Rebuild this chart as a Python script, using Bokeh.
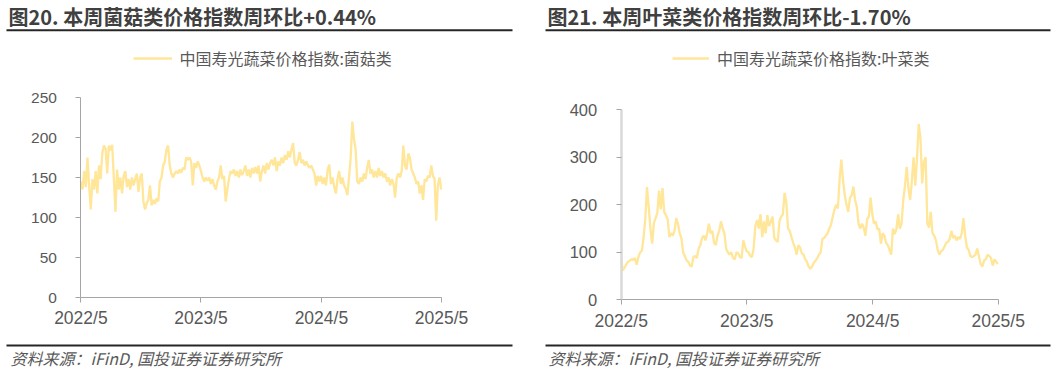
import pandas as pd
from bokeh.plotting import figure
from bokeh.models import (Range1d, FixedTicker, Label, BoxAnnotation, Legend, LegendItem,
                          ColumnDataSource)
from bokeh.layouts import row
from bokeh.embed import file_html
from bokeh.resources import INLINE

# ---------------- data ----------------
START_DATE = "2022-05-01"
STEP = "5D"
tick_dates = ["2022-05-01", "2023-05-01", "2024-05-01", "2025-05-01"]
tick_labels = ["2022/5", "2023/5", "2024/5", "2025/5"]

title_left = "图20. 本周菌菇类价格指数周环比+0.44%"
title_right = "图21. 本周叶菜类价格指数周环比-1.70%"
series_left = "中国寿光蔬菜价格指数:菌菇类"
series_right = "中国寿光蔬菜价格指数:叶菜类"
source_text = "资料来源：iFinD, 国投证券证券研究所"

mushroom = [
    145, 135, 158, 138, 175, 140, 110, 148, 135, 158,
    130, 165, 148, 180, 190, 186, 155, 190, 184, 191,
    150, 107, 160, 135, 150, 130, 152, 158, 138, 148,
    135, 150, 140, 148, 155, 132, 150, 155, 120, 110,
    118, 122, 140, 115, 122, 117, 124, 120, 145, 150,
    165, 170, 185, 190, 165, 155, 150, 155, 158, 155,
    160, 156, 162, 160, 175, 172, 175, 170, 140, 168,
    162, 170, 165,
    158, 150, 145, 150, 146, 150, 142, 148, 140, 135,
    145, 150, 165, 148, 152, 120, 135, 148, 158, 155,
    160, 152, 158, 150, 160, 153, 158, 165, 152, 160,
    150, 162, 155, 163, 155, 165, 145, 158, 165, 155,
    168, 160, 168, 172, 165, 175, 158, 170, 165, 175,
    168, 178, 172, 183, 175, 185, 193, 168, 165, 172,
    182, 168, 172, 165, 170, 165, 162, 165, 160, 155,
    140, 152, 145,
    152, 142, 150, 140, 160, 166, 142, 150, 138, 130,
    148, 158, 142, 150, 140, 136, 128, 150, 175, 220,
    198, 185, 145, 142, 150, 145, 155, 148, 162, 172,
    155, 160, 150, 158, 150, 162, 152, 158, 150, 155,
    145, 150, 140, 148, 142, 125, 150, 155, 150, 158,
    190, 165, 160, 180, 175, 160, 155, 150, 142, 145,
    130, 140, 122, 148, 145, 152, 150, 165, 152, 148,
    96, 140, 150, 135,
]

leafy = [
    83, 62, 68, 75, 80, 82, 86, 84, 88, 74,
    90, 100, 103, 130, 170, 237, 195, 150, 118, 162,
    172, 183, 230, 190, 235, 185, 178, 170, 132, 140,
    135, 145, 172, 160, 140, 130, 100, 92, 83, 80,
    72, 70, 90, 92, 88, 108, 115, 130, 135, 125,
    140, 160, 140, 145, 120, 115, 135, 145, 165, 150,
    140, 108, 100, 95, 100, 88, 85, 100, 98, 90,
    88, 125, 112, 102, 100, 92, 90, 108, 155, 168,
    150, 180, 132, 165, 140, 178, 155, 165, 175, 130,
    125, 122, 165, 175, 180, 225, 205, 150, 145, 132,
    120, 110, 95, 115, 110, 98, 95, 85, 80, 70,
    65, 70, 78, 82, 88, 95, 100, 128, 130, 135,
    140, 150, 158, 175, 190, 200, 192, 255, 295, 250,
    220, 200, 185, 215, 220, 238, 210, 195, 160, 150,
    160, 152,
    135, 170, 175, 215, 180, 160, 165, 148, 150, 118,
    140, 135, 120, 115, 105, 95, 150, 138, 148, 180,
    150, 160, 210, 240, 280, 235, 210, 250, 300, 240,
    300, 370, 340, 245, 290, 300, 160, 152, 185, 140,
    135, 125, 105, 95, 102, 105, 112, 120, 122, 128,
    145, 130, 135, 125, 132, 128, 140, 172, 135, 110,
    105, 92, 90, 92, 95, 108, 92, 75, 70, 83,
    85, 95, 92, 88, 72, 85, 80, 75,
]

LINE_COLOR = "#FFE699"
TEXT_DARK = "#404040"
TEXT_GRAY = "#595959"
RULE_COLOR = "#262626"
CJK = "Noto Sans CJK SC"
LATIN = "Liberation Sans"
H = 371

tick_ms = [pd.Timestamp(d).value / 1e6 for d in tick_dates]


def panel(values, y_top, y_step, title, series_name, W, frame_px, title_x, rule_x,
          src_x, legend_x, legend_glyph_w, legend_standoff, y_label_size,
          y_axis_color, y_axis_width, x_standoff, x_axis_lead):
    # frame_px: canvas positions of the plot area (left, right, top, bottom)
    fl, fr, ft, fb = frame_px
    t0, t1 = tick_ms[0], tick_ms[-1]
    ms_px = (t1 - t0) / (fr - fl)
    v_px = y_top / (fb - ft)
    x_range = Range1d(t0 - fl * ms_px, t0 + (W - fl) * ms_px)
    y_range = Range1d(-(H - fb) * v_px, fb * v_px)

    dates = pd.date_range(START_DATE, periods=len(values), freq=STEP)
    src = ColumnDataSource(dict(date=dates, val=values))
    p = figure(width=W, height=H, x_axis_type="datetime", output_backend="svg", title=None,
               toolbar_location=None, min_border_left=0, min_border_right=0,
               min_border_top=0, min_border_bottom=0, x_range=x_range, y_range=y_range)
    p.outline_line_color = None
    p.background_fill_color = "white"
    p.border_fill_color = "white"
    p.xgrid.visible = False
    p.ygrid.visible = False

    r = p.line("date", "val", source=src, color=LINE_COLOR, line_width=2.3)

    # axes drawn at fixed data locations inside the (full-canvas) frame
    xa, ya = p.xaxis[0], p.yaxis[0]
    xa.fixed_location = 0
    xa.bounds = (t0 - x_axis_lead * ms_px, t1)
    ya.fixed_location = t0
    ya.bounds = (0, y_top)
    xa.ticker = FixedTicker(ticks=tick_ms)
    xa.major_label_overrides = {m: lab for m, lab in zip(tick_ms, tick_labels)}
    ya.ticker = FixedTicker(ticks=list(range(0, y_top + 1, y_step)))
    for ax in (xa, ya):
        ax.minor_tick_line_color = None
        ax.major_tick_in = 0
        ax.major_tick_out = 5
        ax.major_tick_line_color = "#A6A6A6"
        ax.major_label_text_color = TEXT_GRAY
        ax.major_label_text_font = LATIN
    xa.axis_line_color = "#A6A6A6"
    xa.major_label_text_font_size = "17.5px"
    xa.major_label_standoff = x_standoff
    ya.axis_line_color = y_axis_color
    ya.axis_line_width = y_axis_width
    ya.major_label_text_font_size = y_label_size
    ya.major_label_standoff = 19

    # legend (location measured from frame bottom-left)
    legend = Legend(items=[LegendItem(label=series_name, renderers=[r])],
                    location=(legend_x, H - 69.7), orientation="horizontal",
                    padding=0, margin=0, spacing=0,
                    glyph_width=legend_glyph_w, glyph_height=20, label_height=20,
                    label_standoff=legend_standoff,
                    label_text_font=CJK, label_text_font_size="16px",
                    label_text_color=TEXT_GRAY,
                    border_line_color=None, background_fill_alpha=0)
    p.add_layout(legend)

    # heading, rules and source note
    p.add_layout(Label(x=title_x, y=16.3, x_units="canvas", y_units="canvas", text=title,
                       text_font=CJK, text_font_size="20px", text_font_style="bold",
                       text_color=TEXT_DARK, text_baseline="middle", text_align="left"))
    for yy in (29.7, 345):
        p.add_layout(BoxAnnotation(left=rule_x[0], right=rule_x[1], top=yy - 1, bottom=yy + 1,
                                   left_units="canvas", right_units="canvas",
                                   top_units="canvas", bottom_units="canvas",
                                   fill_color=RULE_COLOR, fill_alpha=1, line_alpha=0))
    p.add_layout(Label(x=src_x, y=357.5, x_units="canvas", y_units="canvas",
                       text=source_text, text_font=CJK, text_font_size="16px",
                       text_font_style="italic", text_color=TEXT_GRAY,
                       text_baseline="middle", text_align="left"))
    return p


p1 = panel(mushroom, 250, 50, title_left, series_left, 539, (80.4, 441, 97, 297),
           8, (6, 512), 10, 133.4, 39, 7, "15.5px", "#A6A6A6", 1, 5, 0)
p2 = panel(leafy, 400, 100, title_right, series_right, 522, (81.7, 458.7, 109.2, 299.3),
           8, (6, 511), 9, 133, 37, 8, "16.5px", "#D9D9D9", 2.5, 6, 4)

layout = row(p1, p2, spacing=0)
open("out.html", "w").write(file_html(layout, INLINE))
